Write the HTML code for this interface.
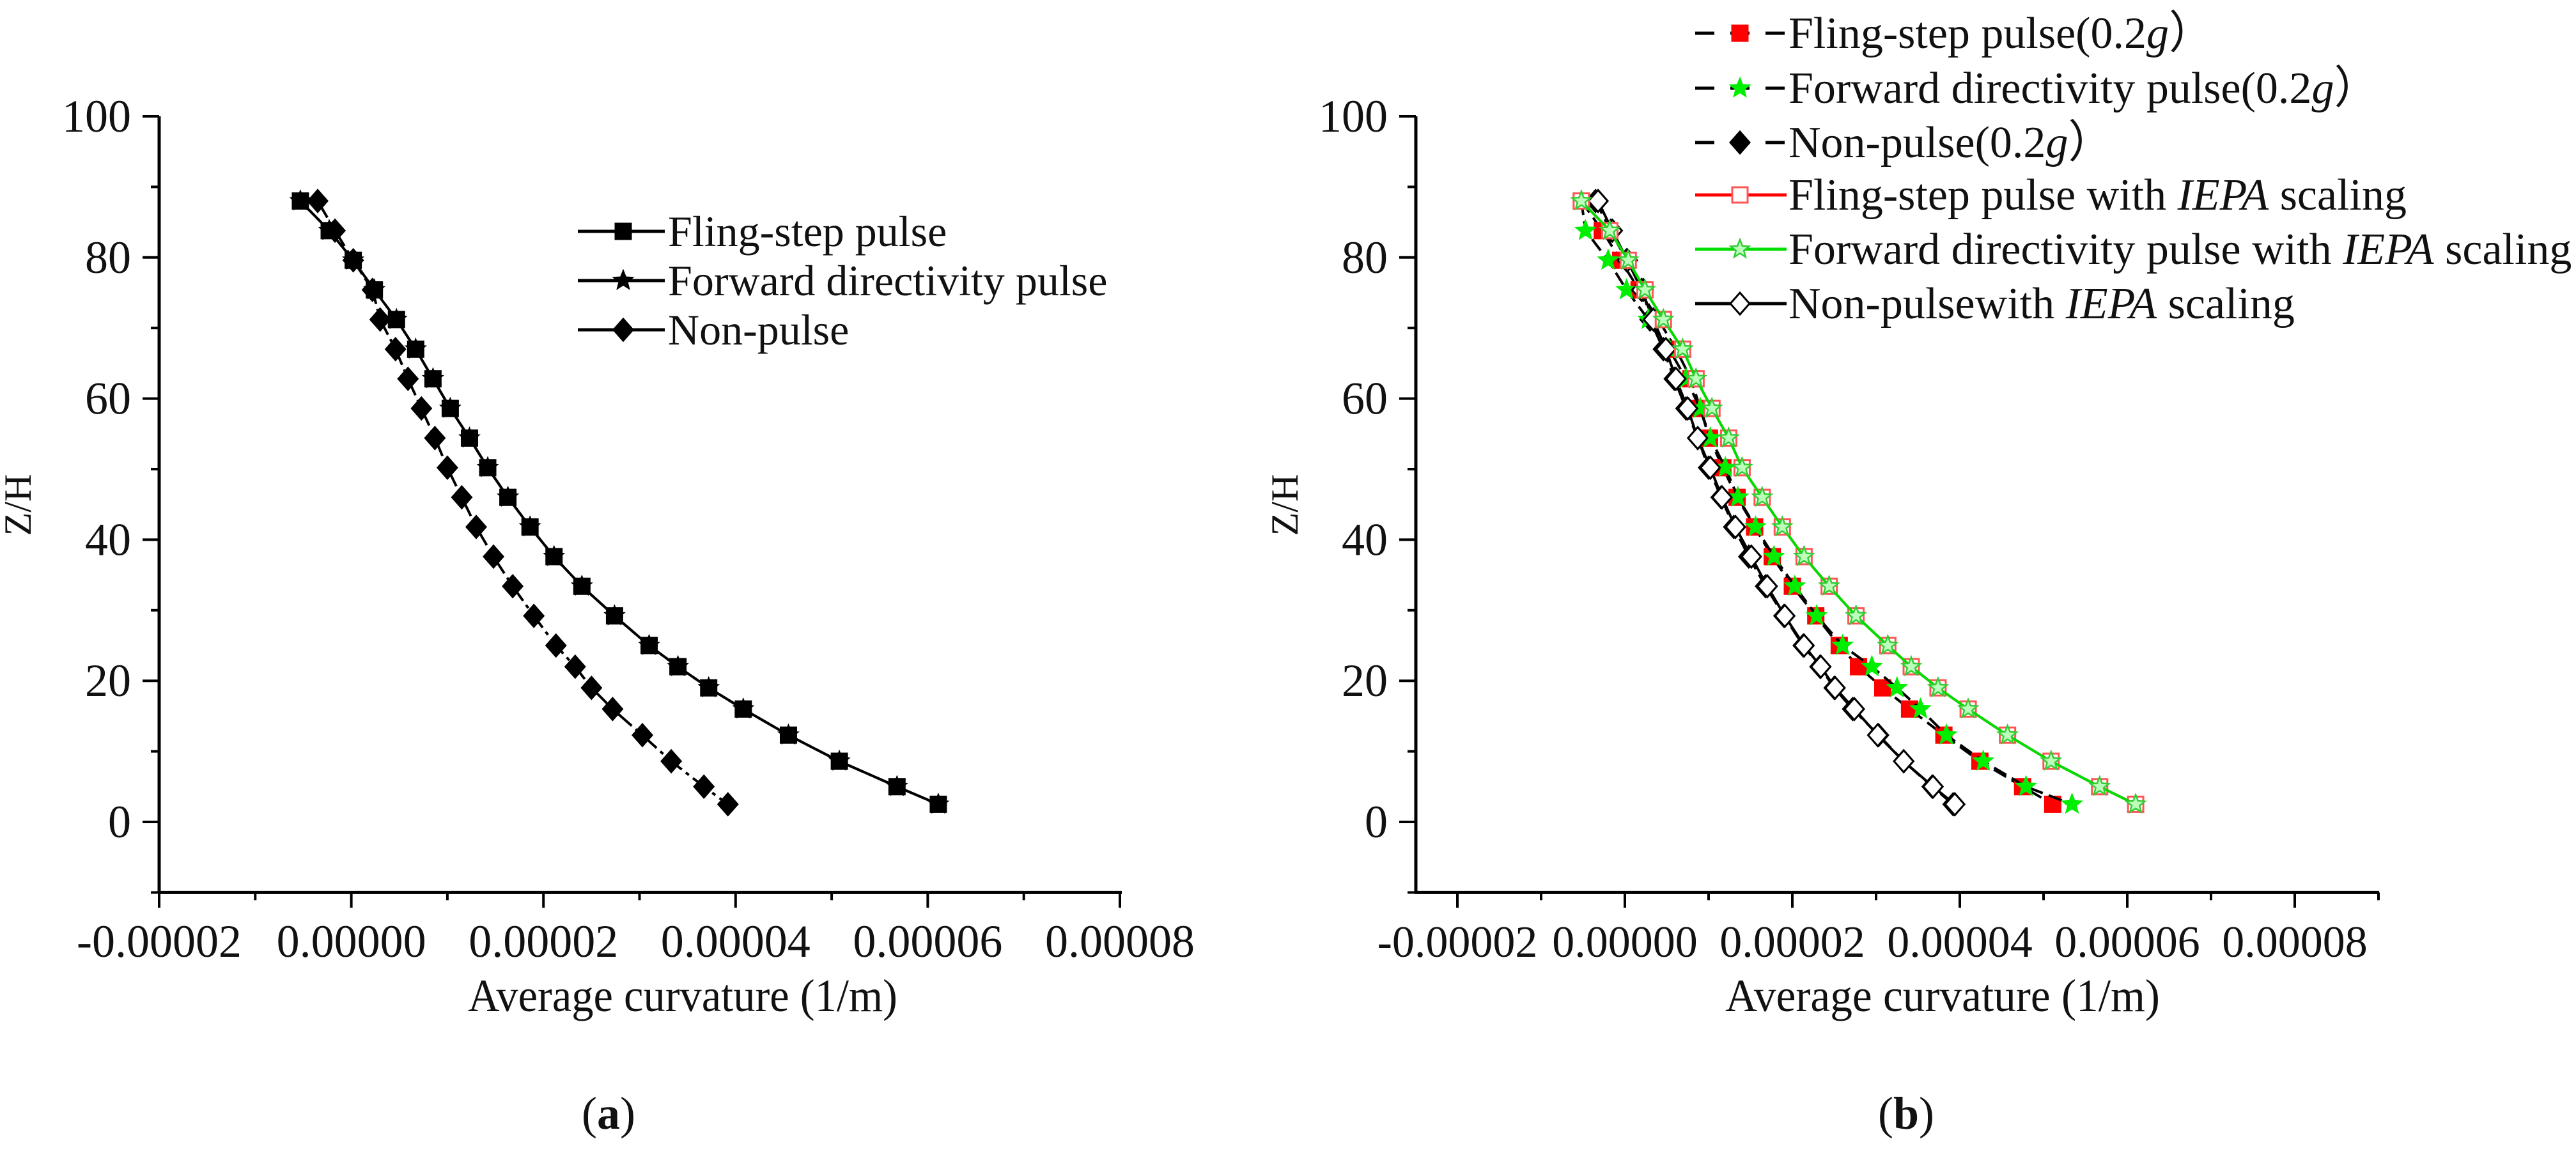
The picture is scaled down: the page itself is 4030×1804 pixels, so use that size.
<!DOCTYPE html>
<html><head><meta charset="utf-8">
<style>
html,body{margin:0;padding:0;background:#fff;}
svg{display:block;}
svg text{font-family:"Liberation Serif","DejaVu Serif",serif;fill:#111;}
</style></head>
<body>
<svg id="fig" width="4030" height="1804" viewBox="0 0 4030 1804" xmlns="http://www.w3.org/2000/svg" font-family="'Liberation Serif', 'DejaVu Serif', serif">
<g id="chartA"></g>
<g id="chartB"></g>
</svg>
<script>
// ---- data (curvature in units of 1e-6 1/m, Z/H) ----
const zLevels = [88,83.8,79.6,75.4,71.2,67,62.8,58.6,54.4,50.2,46,41.8,37.6,33.4,29.2,25,22,19,16,12.3,8.6,5,2.5];
const aFling = [-5.3,-2.3,0.2,2.4,4.7,6.7,8.5,10.3,12.3,14.2,16.3,18.6,21.1,24.0,27.4,31.0,34.0,37.2,40.8,45.5,50.8,56.8,61.1];
const aForward = [-5.3,-2.3,0.2,2.4,4.7,6.7,8.5,10.3,12.3,14.2,16.3,18.6,21.1,24.0,27.4,31.0,34.0,37.2,40.8,45.5,50.8,56.8,61.1];
const aNon = [-3.5,-1.7,0.2,2.2,3.0,4.6,5.9,7.3,8.7,10.0,11.5,13.0,14.8,16.8,19.0,21.3,23.3,25.0,27.2,30.3,33.3,36.7,39.2];
const bFling02 = [-5.2,-2.7,-0.5,1.7,4.0,6.1,7.9,9.0,10.1,11.7,13.4,15.5,17.6,20.0,22.8,25.6,27.9,30.8,34.0,38.1,42.4,47.5,51.1];
const bForward02 = [-5.2,-4.7,-2.0,0.2,2.8,5.3,7.3,9.0,10.2,12.0,13.5,15.6,17.8,20.3,22.9,26.0,29.5,32.5,35.3,38.4,42.8,47.9,53.4];
const bNon02 = [-3.5,-1.7,0.2,2.2,3.0,4.6,5.9,7.3,8.7,10.0,11.5,13.0,14.8,16.8,19.0,21.3,23.3,25.0,27.2,30.3,33.3,36.7,39.2];
const bFlingIEPA = [-5.2,-1.8,0.4,2.4,4.6,6.9,8.5,10.4,12.4,14.0,16.4,18.8,21.4,24.4,27.6,31.4,34.2,37.4,41.0,45.7,50.9,56.7,61.0];
const bForwardIEPA = [-5.2,-1.8,0.4,2.4,4.6,6.9,8.5,10.4,12.4,14.0,16.4,18.8,21.4,24.4,27.6,31.4,34.2,37.4,41.0,45.7,50.9,56.7,61.0];
const bNonIEPA = [-3.2,-1.5,0.3,2.0,3.4,4.9,6.1,7.5,8.7,10.2,11.6,13.2,15.1,17.0,19.1,21.4,23.4,25.1,27.4,30.2,33.3,36.8,39.4];
const xTickValues = [-20,0,20,40,60,80];
const xTickLabels = ["-0.00002","0.00000","0.00002","0.00004","0.00006","0.00008"];
const yTickValues = [0,20,40,60,80,100];
const yTickLabels = ["0","20","40","60","80","100"];

const NS="http://www.w3.org/2000/svg";
const FF="'Liberation Serif', 'DejaVu Serif', serif";
function mk(parent,tag,attrs){const e=document.createElementNS(NS,tag);for(const k in attrs)e.setAttribute(k,attrs[k]);if(tag==='text')e.setAttribute('font-family',FF);parent.appendChild(e);return e;}

function makeAxes(g,cfg){
  const X=v=>cfg.x0+(v-cfg.xv0)*cfg.kx;
  const Y=v=>cfg.y0-v*cfg.ky;
  const ax=mk(g,'g',{});
  
  
  const yl=mk(ax,'line',{x1:cfg.axL,y1:Y(100),x2:cfg.axL,y2:Y(-10),stroke:'#000','stroke-width':5});
  
  
  const xl=mk(ax,'line',{x1:cfg.axL-2,y1:Y(-10),x2:cfg.axR,y2:Y(-10),stroke:'#000','stroke-width':5});
  
  
  for(let v=-10;v<=100;v+=10){
    const major=(v%20===0);
    mk(ax,'line',{x1:cfg.axL-(major?26:13),y1:Y(v),x2:cfg.axL,y2:Y(v),stroke:'#000','stroke-width':4});
  }
  yTickValues.forEach((v,i)=>{
    const t=mk(ax,'text',{x:cfg.axL-44,y:Y(v)+24,'font-size':72,'text-anchor':'end'});
    t.textContent=yTickLabels[i];
    
    
  });
  for(let v=cfg.xMinorStart;v<=cfg.xMinorEnd+0.01;v+=10){
    const major=(Math.round(v)%20===0);
    mk(ax,'line',{x1:X(v),y1:Y(-10),x2:X(v),y2:Y(-10)+(major?24:12),stroke:'#000','stroke-width':4});
  }
  xTickValues.forEach((v,i)=>{
    const t=mk(ax,'text',{x:X(v),y:1497,'font-size':cfg.xfs,'text-anchor':'middle'});
    t.textContent=xTickLabels[i];
    
    
  });
  return {X,Y};
}

function drawMarker(g,type,x,y,fill,stroke){
  let e;
  if(type==='square'){e=mk(g,'rect',{x:x-12,y:y-12,width:24,height:24,fill:fill,stroke:stroke,'stroke-width':3});}
  else if(type==='diamond'){e=mk(g,'polygon',{points:`${x},${y-17} ${x+15},${y} ${x},${y+17} ${x-15},${y}`,fill:fill,stroke:stroke,'stroke-width':3});}
  else {
    let p=[];for(let i=0;i<10;i++){const r=i%2?6.5:15;const a=-Math.PI/2+i*Math.PI/5;p.push((x+r*Math.cos(a)).toFixed(1)+','+(y+r*Math.sin(a)).toFixed(1));}
    e=mk(g,'polygon',{points:p.join(' '),fill:fill,stroke:stroke,'stroke-width':2.5});
  }
  return e;
}

function drawSeries(g,S,xs,name,lineColor,dash,marker,fill,stroke){
  const sg=mk(g,'g',{});
  
  
  const pts=xs.map((v,i)=>S.X(v).toFixed(1)+','+S.Y(zLevels[i]).toFixed(1)).join(' ');
  const pl=mk(sg,'polyline',{points:pts,fill:'none',stroke:lineColor,'stroke-width':4});
  if(dash)pl.setAttribute('stroke-dasharray',dash);
  
  
  xs.forEach((v,i)=>{
    const m=drawMarker(sg,marker,S.X(v),S.Y(zLevels[i]),fill,stroke);
    
    
  });
}

function legendEntry(g,x1,x2,xm,y,tx,label,lineColor,dash,marker,fill,stroke,fs){
  const lg=mk(g,'g',{});
  
  
  const l=mk(lg,'line',{x1:x1,y1:y,x2:x2,y2:y,stroke:lineColor,'stroke-width':5});
  if(dash)l.setAttribute('stroke-dasharray',dash);
  drawMarker(lg,marker,xm,y,fill,stroke);
  const t=mk(lg,'text',{x:tx,y:y+23,'font-size':fs});
  t.innerHTML=label;
  return lg;
}

function labels(g,yx,ax,axw,px,pl){
  const yt=mk(g,'text',{x:0,y:0,'font-size':60,'text-anchor':'middle',transform:`translate(${yx},790) rotate(-90)`});
  yt.textContent='Z/H';
  
  
  const xt=mk(g,'text',{x:ax,y:1582,'font-size':72,'text-anchor':'middle',textLength:axw,lengthAdjust:'spacingAndGlyphs'});
  xt.textContent='Average curvature (1/m)';
  
  
  const pt=mk(g,'text',{x:px,y:1766,'font-size':72,'text-anchor':'middle'});
  pt.innerHTML='(<tspan font-weight="bold">'+pl+'</tspan>)';
  
  
}

// ---- chart A ----
const gA=document.getElementById('chartA');
const SA=makeAxes(gA,{x0:249,xv0:-20,kx:15.03,y0:1286,ky:11.04,axL:249,axR:1755,xMinorStart:-20,xMinorEnd:80,xfs:72});
drawSeries(gA,SA,aForward,'forward-directivity-series','#000','30 8 6 8','star','#000','#000');
drawSeries(gA,SA,aFling,'fling-step-series','#000',null,'square','#000','#000');
drawSeries(gA,SA,aNon,'non-pulse-series','#000','30 8 6 8','diamond','#000','#000');
const legA=mk(gA,'g',{});


legendEntry(legA,904,1040,975,362,1045,'Fling-step pulse','#000',null,'square','#000','#000',68);
legendEntry(legA,904,1040,975,439,1045,'Forward directivity pulse','#000',null,'star','#000','#000',68);
legendEntry(legA,904,1040,975,516,1045,'Non-pulse','#000',null,'diamond','#000','#000',68);
labels(gA,48,1068,672,952,'a');

// ---- chart B ----
const gB=document.getElementById('chartB');
const SB=makeAxes(gB,{x0:2280,xv0:-20,kx:13.1,y0:1286,ky:11.04,axL:2215,axR:3722,xMinorStart:-20,xMinorEnd:90,xfs:70});
drawSeries(gB,SB,bNonIEPA,'non-pulse-iepa-series','#000',null,'diamond','#fff','#000');
drawSeries(gB,SB,bNon02,'non-pulse-02g-series','#000','22 10','diamond','#000','#000');
drawSeries(gB,SB,bFling02,'fling-step-02g-series','#000','22 10','square','#f00','#f00');
drawSeries(gB,SB,bForward02,'forward-directivity-02g-series','#000','22 10','star','#0e0','#0e0');
drawSeries(gB,SB,bNonIEPA.map(v=>v),'non-pulse-iepa-markers','none',null,'diamond','#fff','#000');
drawSeries(gB,SB,bFlingIEPA,'fling-step-iepa-series','#f00',null,'square','#fff','#f55');
drawSeries(gB,SB,bForwardIEPA,'forward-directivity-iepa-series','#0d0',null,'star','#bfb','#3c3');
const legB=mk(gB,'g',{});


legendEntry(legB,2652,2795,2722,52,2798,'Fling-step pulse(0.2<tspan font-style="italic">g</tspan>）','#000','30 25','square','#f00','#f00',70);
legendEntry(legB,2652,2795,2722,138,2798,'Forward directivity pulse(0.2<tspan font-style="italic">g</tspan>）','#000','30 25','star','#0e0','#0e0',70);
legendEntry(legB,2652,2795,2722,223,2798,'Non-pulse(0.2<tspan font-style="italic">g</tspan>）','#000','30 25','diamond','#000','#000',70);
legendEntry(legB,2652,2795,2722,305,2798,'Fling-step pulse with <tspan font-style="italic">IEPA</tspan> scaling','#f00',null,'square','#fff','#f55',70);
legendEntry(legB,2652,2795,2722,390,2798,'Forward directivity pulse with <tspan font-style="italic">IEPA</tspan> scaling','#0d0',null,'star','#bfb','#3c3',70);
legendEntry(legB,2652,2795,2722,475,2798,'Non-pulsewith <tspan font-style="italic">IEPA</tspan> scaling','#000',null,'diamond','#fff','#000',70);
labels(gB,2030,3039,680,2982,'b');
</script>
</body></html>
